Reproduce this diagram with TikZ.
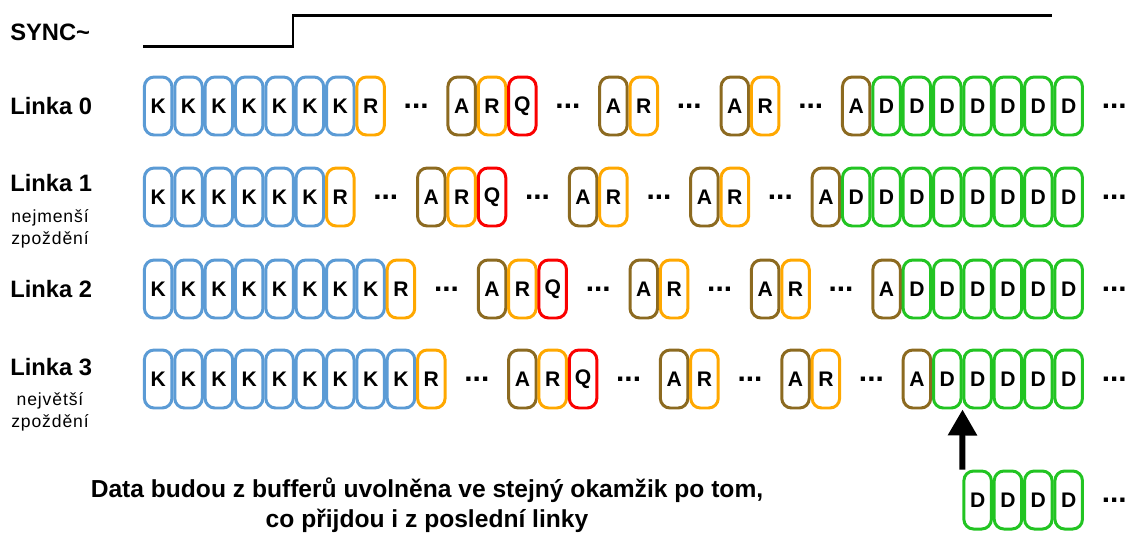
\documentclass[tikz,border=0pt]{standalone}
\usepackage{fontspec}
\setmainfont{Liberation Sans}
\newfontfamily\spacedfont[LetterSpace=5]{Liberation Sans}
\usetikzlibrary{positioning,arrows.meta,calc}
\definecolor{colK}{RGB}{91,155,213}
\definecolor{colR}{RGB}{255,168,0}
\definecolor{colA}{RGB}{140,106,32}
\definecolor{colQ}{RGB}{250,0,0}
\definecolor{colD}{RGB}{34,196,34}

\tikzset{
  cell/.style={draw=col#1,fill=white,line width=1.7pt,rounded corners=5.5pt,
    minimum width=0.55cm,minimum height=1.16cm,inner sep=0pt,
    font=\fontsize{12}{12}\selectfont\bfseries},
  gap/.style={inner sep=0pt,anchor=base,font=\fontsize{17}{17}\selectfont\bfseries},
  linelbl/.style={anchor=west,inner sep=0pt,font=\fontsize{13.5}{14}\selectfont\bfseries},
  delaylbl/.style={align=center,inner sep=0pt,font=\fontsize{10}{12.5}\selectfont\spacedfont}
}

\begin{document}
\begin{tikzpicture}[x=0.02cm,y=-0.02cm]
\useasboundingbox[fill=white] (0,0) rectangle (1133,532);
% sync signal
\node[linelbl] (sync) at (10,32) {SYNC\textasciitilde};
\draw[line width=1.7pt] (143,46) -- (293,46) -- (293,15) -- (1052,15);
% one line per link, shifted by its delay
\foreach \r/\off/\y/\ly in {0/0/106/106,1/-1/197/183,2/1/289/289,3/2/379/367}{
  \node[linelbl] (lbl\r) at (10,\ly) {Linka \r};
  \pgfmathtruncatemacro\kl{6+\off}
  \foreach \s in {0,...,\kl}
    \node[cell=K] (b\r-\s) at ({143+(\s+0.5)*30.35},\y) {K};
  \foreach \c/\s in {R/7,A/10,R/11,Q/12,A/15,R/16,A/19,R/20,A/23}{
    \pgfmathtruncatemacro\n{\s+\off}
    \node[cell=\c] (b\r-\n) at ({143+(\n+0.5)*30.35},\y) {\c};
  }
  \pgfmathtruncatemacro\dl{24+\off}
  \foreach \s in {\dl,...,30}
    \node[cell=D] (b\r-\s) at ({143+(\s+0.5)*30.35},\y) {D};
  \foreach \s [count=\i] in {9,14,18,22}{
    \pgfmathtruncatemacro\n{\s+\off}
    \node[gap] (g\r-\i) at ({143+\n*30.35},\y+2) {...};
  }
  \node[gap] (g\r-5) at ({143+32*30.35},\y+2) {...};
}
\node[delaylbl] (sub1) at (50,229) {nejmenší\\zpoždění};
\node[delaylbl] (sub3) at (50,412) {největší\\zpoždění};
% released data
\foreach \s in {27,...,30}
  \node[cell=D] (out-\s) at ({143+(\s+0.5)*30.35},500) {D};
\node[gap] (out-gap) at ({143+32*30.35},502) {...};
\draw[line width=3.4pt,-{Triangle[width=0.56cm,length=0.52cm]}] (out-27.north west) -- (b3-26.south east);
\node[align=center,inner sep=0pt,font=\fontsize{14}{16.8}\selectfont\bfseries] (note) at (427,505)
  {Data budou z bufferů uvolněna ve stejný okamžik po tom,\\co přijdou i z poslední linky};
\end{tikzpicture}
\end{document}
